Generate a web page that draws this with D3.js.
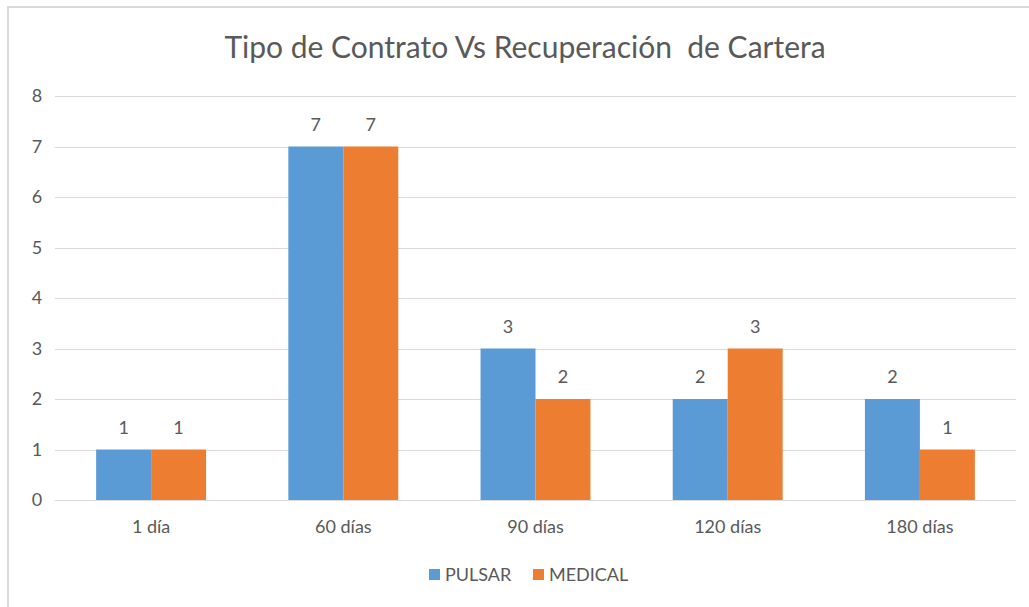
<!DOCTYPE html>
<html>
<head>
<meta charset="utf-8">
<script src="https://cdn.jsdelivr.net/npm/d3@7"></script>
<style>
  body { margin: 0; background: #fff; }
  svg { display: block; font-family: Lato, "Open Sans", sans-serif; }
</style>
</head>
<body>
<svg width="1029" height="607"></svg>
<script>
let categories = ["1 día", "60 días", "90 días", "120 días", "180 días"];
let seriesNames = ["PULSAR", "MEDICAL"];
let pulsar = [1, 7, 3, 2, 2];
let medical = [1, 7, 2, 3, 1];
let yTicks = [0, 1, 2, 3, 4, 5, 6, 7, 8];
let colors = ["#5B9BD5", "#ED7D31"];

let svg = d3.select("svg");
let plotLeft = 55, plotRight = 1016, plotTop = 96, plotBottom = 500;

// outer chart frame
svg.append("rect")
    .attr("x", 8).attr("y", 7)
    .attr("width", 1060).attr("height", 640)
    .attr("fill", "none")
    .attr("stroke", "#D9D9D9")
    .attr("stroke-width", 2);

let xScale = d3.scaleBand()
    .domain(categories)
    .range([plotLeft, plotRight])
    .paddingInner(0.428)
    .paddingOuter(0.214);

let inner = d3.scaleBand()
    .domain(seriesNames)
    .range([0, xScale.bandwidth()]);

let yScale = d3.scaleLinear()
    .domain([0, 8])
    .range([plotBottom, plotTop]);

// gridlines
svg.append("g")
    .selectAll("line")
    .data(yTicks)
    .enter()
    .append("line")
    .attr("x1", plotLeft).attr("x2", plotRight)
    .attr("y1", d => Math.round(yScale(d)) + 0.5)
    .attr("y2", d => Math.round(yScale(d)) + 0.5)
    .attr("stroke", "#D9D9D9")
    .attr("stroke-width", 1);

// y axis labels
let yAxis = d3.axisLeft(yScale).tickValues(yTicks).tickSize(0).tickPadding(0);
let yG = svg.append("g")
    .attr("transform", "translate(37,0)")
    .call(yAxis)
    .attr("font-family", null);
yG.select(".domain").remove();
yG.selectAll("text")
    .attr("fill", "#595959")
    .style("font-size", "18px")
    .attr("text-anchor", "middle");

// x axis labels
let xAxis = d3.axisBottom(xScale).tickSize(0).tickPadding(20);
let xG = svg.append("g")
    .attr("transform", "translate(0," + plotBottom + ")")
    .call(xAxis)
    .attr("font-family", null);
xG.select(".domain").remove();
xG.selectAll("text")
    .attr("fill", "#595959")
    .style("font-size", "18px");

let rows = categories.map((c, i) => ({ cat: c, values: [pulsar[i], medical[i]] }));

let groups = svg.selectAll(".grp")
    .data(rows)
    .enter()
    .append("g")
    .attr("class", "grp")
    .attr("transform", d => "translate(" + xScale(d.cat) + ",0)");

groups.selectAll("rect")
    .data(d => d.values.map((v, j) => ({ name: seriesNames[j], v: v, j: j })))
    .enter()
    .append("rect")
    .attr("x", d => inner(d.name))
    .attr("width", inner.bandwidth())
    .attr("y", d => yScale(d.v))
    .attr("height", d => yScale(0) - yScale(d.v))
    .attr("fill", d => colors[d.j]);

groups.selectAll("text")
    .data(d => d.values.map((v, j) => ({ name: seriesNames[j], v: v })))
    .enter()
    .append("text")
    .attr("x", d => inner(d.name) + inner.bandwidth() / 2)
    .attr("y", d => yScale(d.v) - 16)
    .attr("text-anchor", "middle")
    .attr("fill", "#595959")
    .style("font-size", "18px")
    .text(d => d.v);

// title
svg.append("text")
    .attr("x", 525)
    .attr("y", 58)
    .attr("text-anchor", "middle")
    .attr("fill", "#595959")
    .attr("xml:space", "preserve")
    .style("white-space", "pre")
    .style("font-size", "30px")
    .text("Tipo de Contrato Vs Recuperación  de Cartera");

// legend
let legendX = [429, 533];
let legend = svg.selectAll(".leg")
    .data(seriesNames)
    .enter()
    .append("g")
    .attr("class", "leg")
    .attr("transform", (d, i) => "translate(" + legendX[i] + ",569)");
legend.append("rect")
    .attr("width", 11).attr("height", 11)
    .attr("fill", (d, i) => colors[i]);
legend.append("text")
    .attr("x", 16).attr("y", 12)
    .attr("fill", "#595959")
    .style("font-size", "18px")
    .text(d => d);
</script>
</body>
</html>
